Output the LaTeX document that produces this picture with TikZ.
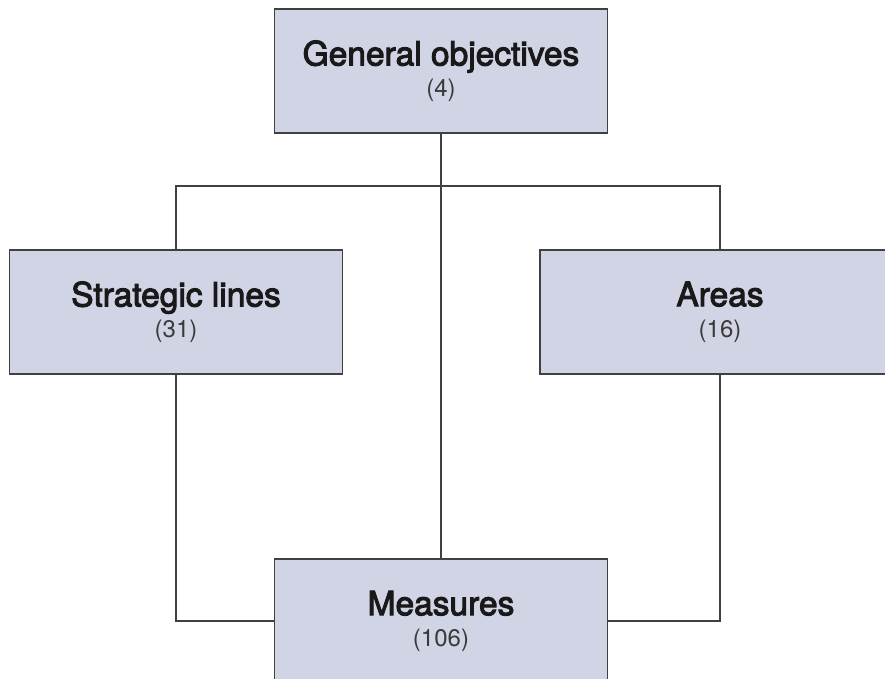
\documentclass[tikz,border=0pt]{standalone}
\usepackage{fontspec}
\setmainfont{TeX Gyre Heros}
\newfontfamily\medfont{TeX Gyre Heros}[FakeBold=3]
\usepackage{tikz}
\usetikzlibrary{calc}

\definecolor{boxfill}{HTML}{D1D4E5}
\definecolor{linegray}{HTML}{404040}
\definecolor{numgray}{HTML}{3A3A3A}
\newcommand{\titletext}[1]{{\fontsize{33.5}{31}\medfont\color{black!90}#1}}
\newcommand{\counttext}[1]{{\fontsize{24}{31}\selectfont\color{numgray}#1}}

\begin{document}
\begin{tikzpicture}
     [ x=1pt, y=-1pt,
       box/.style={rectangle, draw=linegray, line width=1.2pt, fill=boxfill,
                   minimum width=333pt, minimum height=124pt, inner sep=0pt,
                   align=center, font=\fontsize{24}{31}\selectfont},
       link/.style={draw=linegray, line width=1.2pt}]
   \useasboundingbox (0,0) rectangle (885,679);
   \clip (0,0) rectangle (885,679);
   %\fill[white] (0,0) rectangle (885,679);
   \node (GEN) [box] at (441,71) {\titletext{General objectives}\\\counttext{(4)}};
   \node (LINES) [box] at (176,312) {\titletext{Strategic lines}\\\counttext{(31)}};
   \node (AREAS) [box, minimum width=360pt] at (720,312) {\titletext{Areas}\\\counttext{(16)}};
   \node (MEAS) [box] at (441,621) {\titletext{Measures}\\\counttext{(106)}};
   \coordinate (BAR) at (441,186);
   \draw[link] (GEN) -- (MEAS);
   \draw[link] (LINES.north) |- (BAR) -| (AREAS.north);
   \draw[link] (LINES.south) |- (MEAS.west);
   \draw[link] (AREAS.south) |- (MEAS.east);
   \end{tikzpicture}
\end{document}
